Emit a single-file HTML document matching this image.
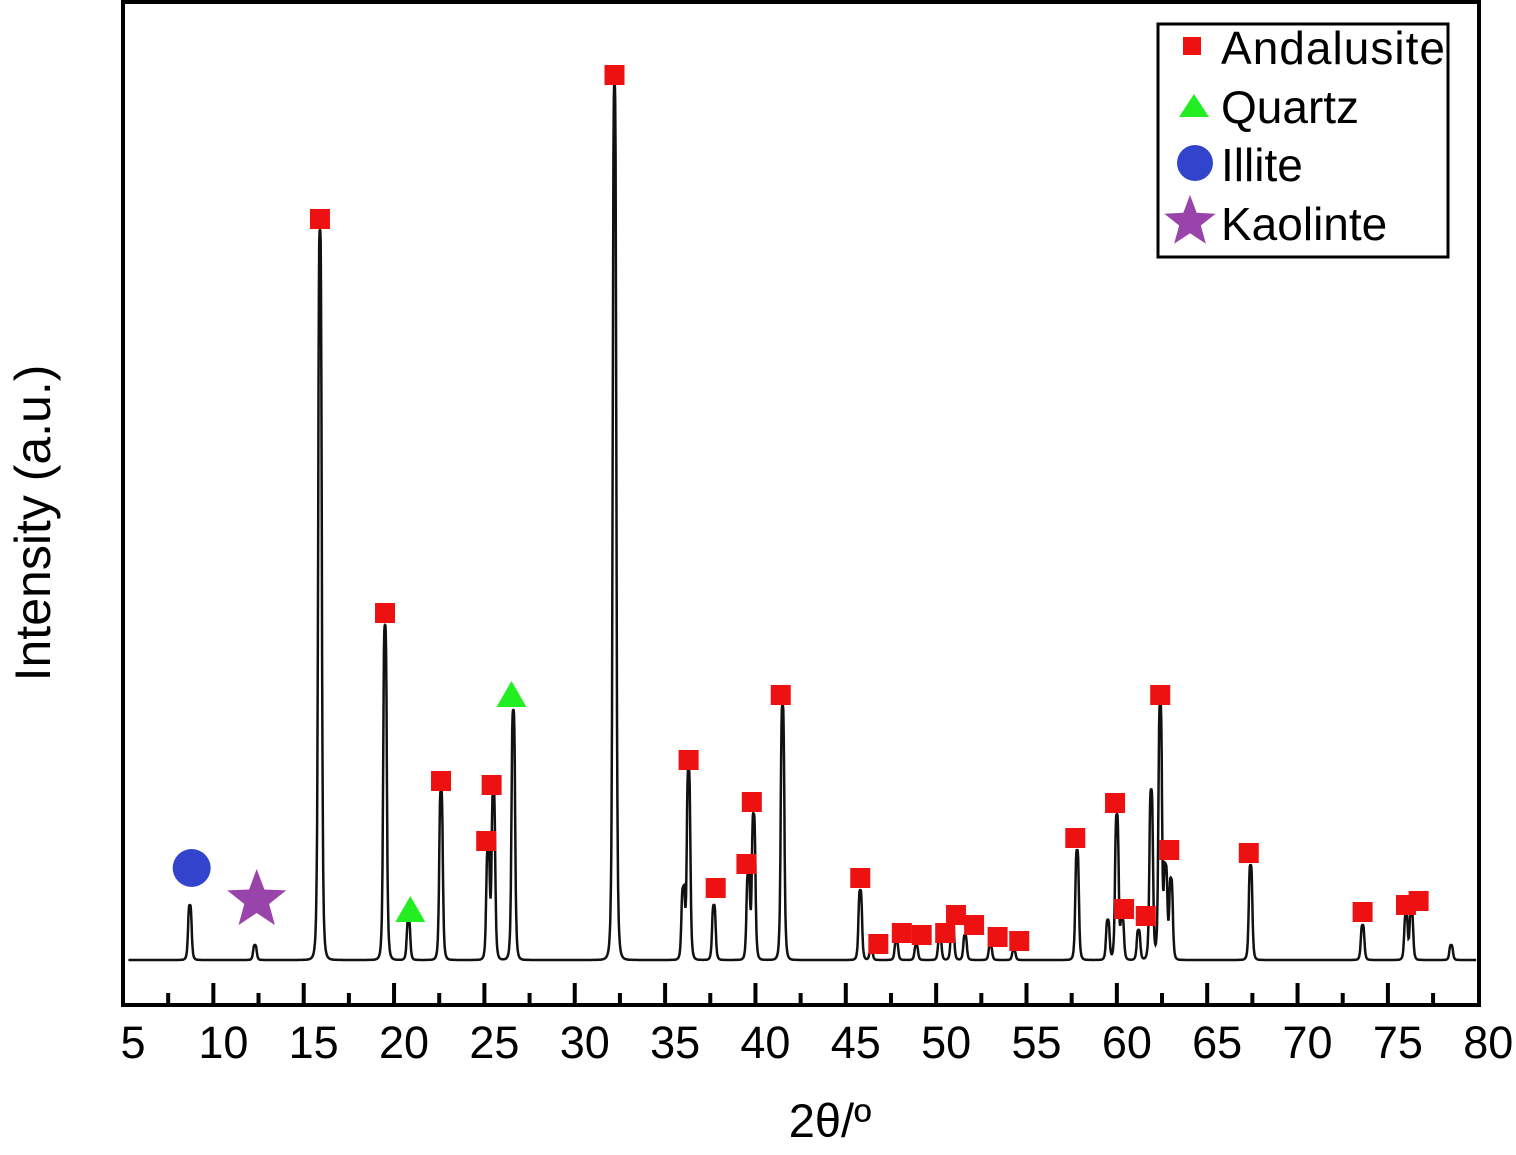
<!DOCTYPE html>
<html><head><meta charset="utf-8"><style>
html,body{margin:0;padding:0;background:#fff;}
svg{display:block;font-family:"Liberation Sans",Arial,sans-serif;}
</style></head><body>
<svg id="chart" width="1516" height="1155" viewBox="0 0 1516 1155">
<g id="trace-layer"></g>
<g id="marker-layer"></g>
<rect x="123" y="2" width="1356" height="1003" fill="none" stroke="#000" stroke-width="4"/>
<g id="axis-layer"></g>
<text x="830" y="1137" font-size="47" text-anchor="middle">2θ/º</text>
<text transform="translate(50,523) rotate(-90)" font-size="50" text-anchor="middle">Intensity (a.u.)</text>
<g>
<rect x="1158" y="24" width="290" height="233" fill="#fff" stroke="#000" stroke-width="3"/>
<rect x="1183" y="37" width="18" height="18" fill="#ee1111"/>
<text x="1221" y="64" font-size="46" textLength="224">Andalusite</text>
<polygon points="1194,94 1209,117 1179,117" fill="#22ee22"/>
<text x="1221" y="123" font-size="46">Quartz</text>
<circle cx="1195" cy="163" r="18" fill="#3344cc"/>
<text x="1221" y="181" font-size="46">Illite</text>
<polygon id="lstar" fill="#9944aa"/>
<text x="1221" y="240" font-size="46">Kaolinte</text>
</g>
</svg>
<script>
// Peak positions (2θ, deg) and heights (intensity units above axis bottom)
const peakPos = [8.7,12.3,15.9,19.5,20.8,22.6,25.2,25.5,26.6,32.2,36.0,36.3,37.7,39.6,39.9,41.5,45.8,46.4,47.8,48.9,50.2,50.9,51.6,53.0,54.3,57.8,59.5,60.0,60.3,61.2,61.9,62.4,62.7,63.0,67.4,73.6,76.0,76.3,78.5];
const peakInt = [55,15,730,335,40,170,110,170,250,875,70,190,55,85,145,255,70,10,20,15,25,40,25,15,10,110,40,145,40,30,170,255,90,80,95,35,45,50,15];
const baseline = 45;
// Markers (2θ, intensity)
const andalusitePos = [15.9,19.5,22.6,25.1,25.4,32.2,36.3,37.8,39.5,39.8,41.4,45.8,46.8,48.1,49.2,50.5,51.1,52.1,53.4,54.6,57.7,59.9,60.4,61.6,62.4,62.9,67.3,73.6,76.0,76.7];
const andalusiteInt = [786,392,224,164,220,930,245,117,141,203,310,127,61,72,70,72,90,80,68,64,167,202,96,89,310,155,152,93,100,104];
const quartzPos = [20.9,26.5];
const quartzInt = [95,310];
const illitePos = [8.8];
const illiteInt = [137];
const kaolinitePos = [12.4];
const kaolinteInt = [105];
const xTicks = [5,10,15,20,25,30,35,40,45,50,55,60,65,70,75,80];

const NS="http://www.w3.org/2000/svg";
const xS = d => 123 + (d-5)*18.07;
const yS = v => 1005 - v;
function mk(tag, attrs, parent){const e=document.createElementNS(NS,tag);for(const k in attrs)e.setAttribute(k,attrs[k]);parent.appendChild(e);return e;}
const trace=document.getElementById('trace-layer');
let d="";
for(let t=5.3;t<=79.9;t+=0.02){
  let v=baseline;
  for(let i=0;i<peakPos.length;i++){const w=0.11;const dx=(t-peakPos[i])/w;v+=peakInt[i]/(1+dx*dx*dx*dx);}
  d+=(d?"L":"M")+xS(t).toFixed(1)+","+yS(v).toFixed(1);
}
const p=mk('path',{d:d,fill:'none',stroke:'#111','stroke-width':'2.5'},trace);



const ml=document.getElementById('marker-layer');
andalusitePos.forEach((x,i)=>{const r=mk('rect',{x:xS(x)-10,y:yS(andalusiteInt[i])-10,width:20,height:20,fill:'#ee1111'},ml);

});
quartzPos.forEach((x,i)=>{const cx=xS(x),cy=yS(quartzInt[i]);const r=mk('polygon',{points:`${cx},${cy-14} ${cx+15},${cy+12} ${cx-15},${cy+12}`,fill:'#22ee22'},ml);

});
illitePos.forEach((x,i)=>{const r=mk('circle',{cx:xS(x),cy:yS(illiteInt[i]),r:19,fill:'#3344cc'},ml);

});
function star(cx,cy,R){let s=[];for(let k=0;k<10;k++){const a=-Math.PI/2+k*Math.PI/5;const r=k%2?R*0.42:R;s.push((cx+r*Math.cos(a)).toFixed(1)+","+(cy+r*Math.sin(a)).toFixed(1));}return s.join(" ");}
kaolinitePos.forEach((x,i)=>{const r=mk('polygon',{points:star(xS(x),yS(kaolinteInt[i]),31),fill:'#9944aa'},ml);

});
document.getElementById('lstar').setAttribute('points',star(1190,222,27));

const ax=document.getElementById('axis-layer');
for(let t=7.5;t<80;t+=2.5){const major=(t%5===0);const l=mk('line',{x1:xS(t),x2:xS(t),y1:1005,y2:major?983:993,stroke:'#000','stroke-width':'4'},ax);

}
xTicks.forEach(t=>{const tx=mk('text',{x:xS(t)+10,y:1058,'font-size':'45','text-anchor':'middle'},ax);tx.textContent=t;

});
</script>
</body></html>
